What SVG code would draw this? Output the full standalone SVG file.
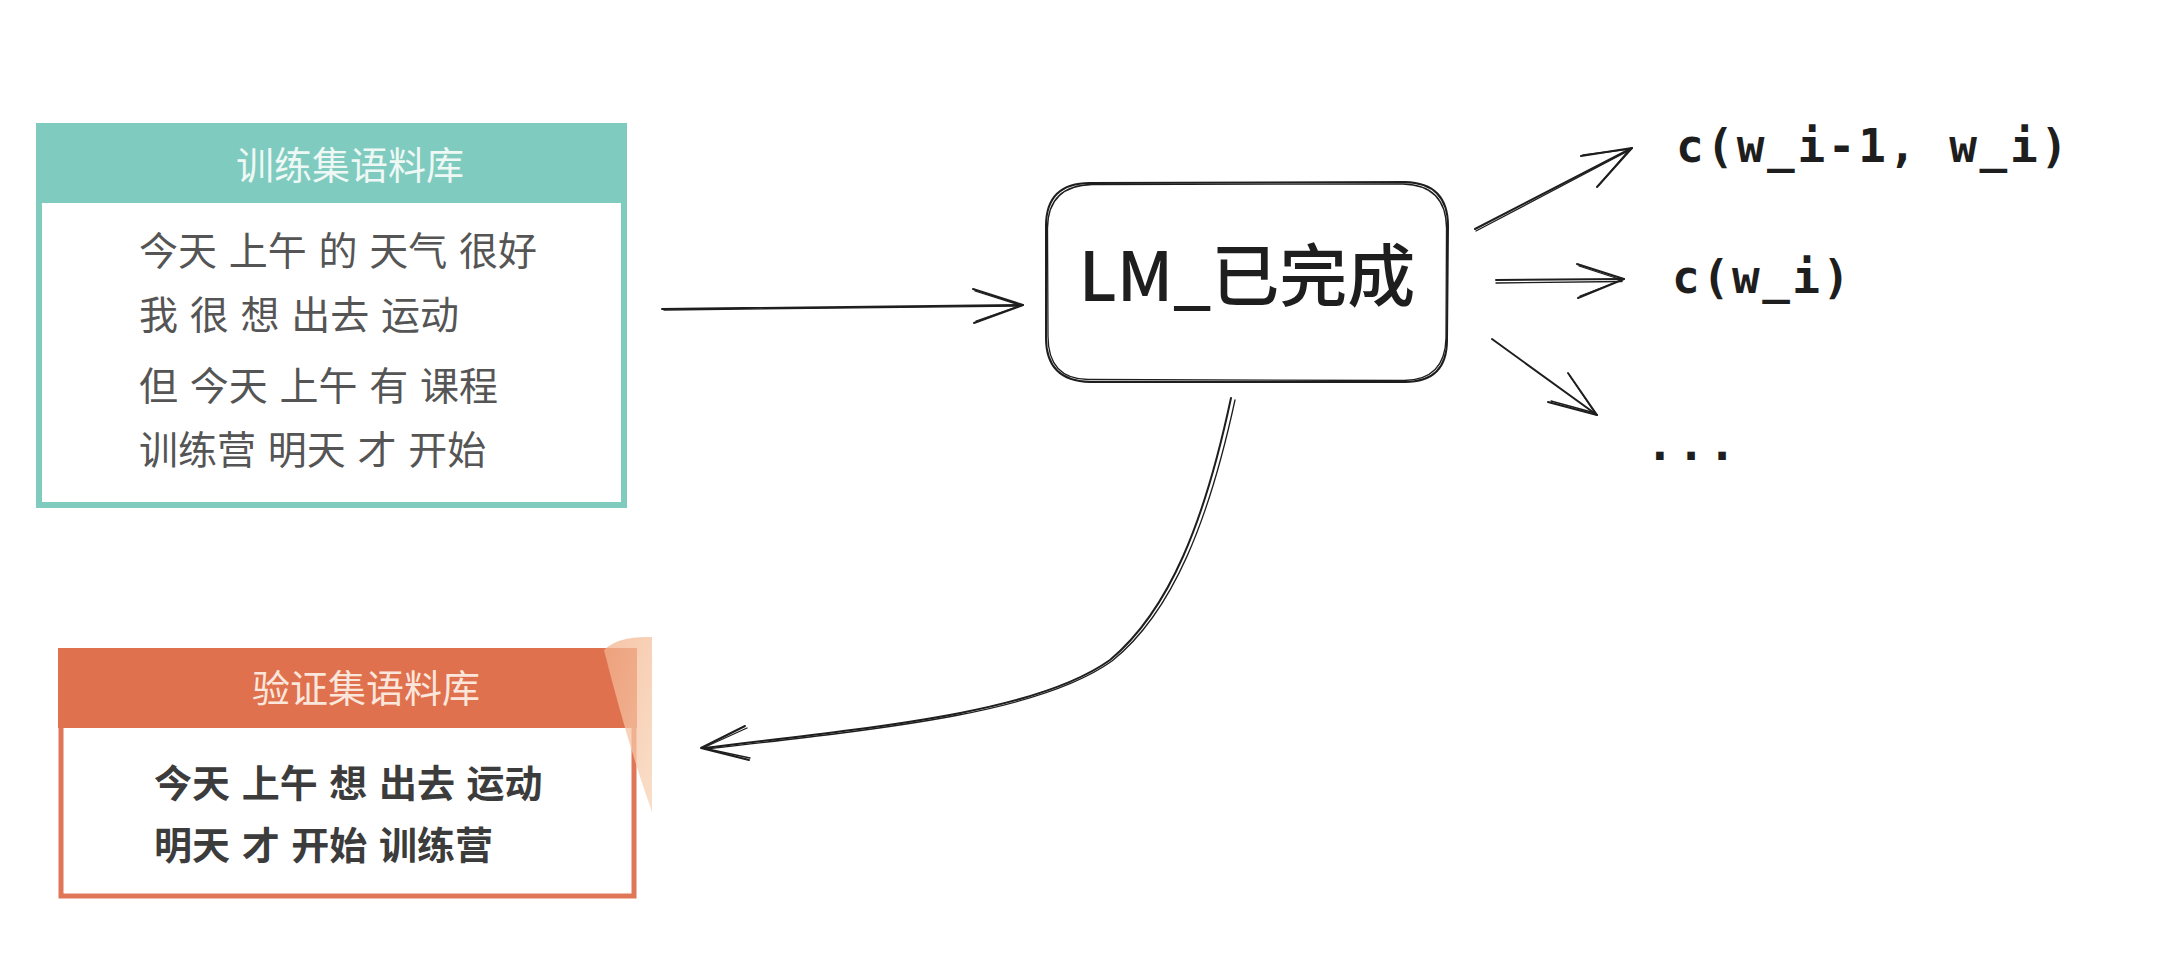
<svg xmlns="http://www.w3.org/2000/svg" width="2162" height="954" viewBox="0 0 2162 954">
<defs>
<style>
.cjk{font-family:"Noto Sans CJK SC","Noto Sans",sans-serif;}
.hdr{font-size:38px;fill:#eef8f5;text-anchor:middle;}
.body{font-size:39px;fill:#555555;word-spacing:3px;}
.vbody{font-size:38px;fill:#3c3c3c;font-weight:bold;word-spacing:3px;}
.mono{font-family:"DejaVu Sans Mono","Liberation Mono",monospace;font-weight:bold;font-size:46px;fill:#1e1e1e;}
.sk{fill:none;stroke:#1e1e1e;stroke-width:2;stroke-linecap:round;stroke-linejoin:round;}
.sk2{fill:none;stroke:#1e1e1e;stroke-width:1.3;stroke-linecap:round;stroke-linejoin:round;}
</style>
<linearGradient id="peach" x1="0" y1="0" x2="1" y2="1">
<stop offset="0" stop-color="#f2b08a"/>
<stop offset="1" stop-color="#f8d4b6"/>
</linearGradient>
</defs>
<rect width="2162" height="954" fill="#ffffff"/>

<g id="train-corpus">
<rect x="39" y="126" width="585" height="379" fill="#ffffff" stroke="#7fcbbd" stroke-width="6"/>
<rect x="36" y="123" width="591" height="80" fill="#80cbbf"/>
<text class="cjk hdr" x="350" y="179">训练集语料库</text>
<text class="cjk body" x="139" y="265">今天 上午 的 天气 很好</text>
<text class="cjk body" x="139" y="329">我 很 想 出去 运动</text>
<text class="cjk body" x="139" y="400">但 今天 上午 有 课程</text>
<text class="cjk body" x="139" y="464">训练营 明天 才 开始</text>
</g>

<g id="valid-corpus">
<rect x="61" y="651" width="573" height="245" fill="#ffffff" stroke="#e07658" stroke-width="5"/>
<rect x="58" y="648" width="579" height="80" fill="#e0714f"/>
<text class="cjk hdr" x="366" y="702" style="fill:#fbe6dc">验证集语料库</text>
<text class="cjk vbody" x="154" y="797">今天 上午 想 出去 运动</text>
<text class="cjk vbody" x="154" y="859">明天 才 开始 训练营</text>
<path d="M604,650 Q618,636 652,637 L652,812 Q628,745 604,650 Z" fill="url(#peach)" opacity="0.75"/>
</g>

<g id="lm-node">
<path class="sk" d="M1090,183 L1405,182 Q1448,183 1448,226 L1447,340 Q1447,382 1405,382 L1090,382 Q1046,381 1046,338 L1046,226 Q1046,183 1090,183 Z" fill="#ffffff"/>
<path class="sk2" d="M1092,184.5 L1403,184 Q1446,185 1446.5,228 L1446,338 Q1445,380 1404,380.5 L1088,379.5 Q1048,379 1048,336 L1047.5,228 Q1048,185.5 1092,184.5 Z"/>
<text class="cjk" x="1247" y="301" font-size="68" font-weight="500" fill="#1e1e1e" text-anchor="middle">LM_已完成</text>
</g>

<g id="label-bigram">
<text class="mono" x="1676" y="162" textLength="392" lengthAdjust="spacing">c(w_i-1, w_i)</text>
</g>
<g id="label-unigram">
<text class="mono" x="1672" y="293" textLength="178" lengthAdjust="spacing">c(w_i)</text>
</g>
<g id="label-more">
<text class="mono" x="1646" y="460" textLength="90" lengthAdjust="spacing">...</text>
</g>

<g id="connectors">
<!-- train -> LM -->
<path class="sk" d="M662,309 L1023,305"/>
<path class="sk2" d="M664,310 Q850,308 1021,306"/>
<path class="sk" d="M973,289 L1023,305 L974,323"/>
<path class="sk2" d="M975,291 L1021,305.5 L976,321"/>
<!-- LM -> bigram -->
<path class="sk" d="M1475,229 L1632,148"/>
<path class="sk2" d="M1476,231 L1630,150"/>
<path class="sk" d="M1581,156 L1632,148 L1597,187"/>
<path class="sk2" d="M1583,155 L1630,149 L1599,185"/>
<!-- LM -> unigram -->
<path class="sk" d="M1496,280 L1624,279"/>
<path class="sk2" d="M1496,283 L1622,281.5"/>
<path class="sk" d="M1577,264 L1624,279 L1578,298"/>
<path class="sk2" d="M1579,266 L1622,280 L1580,296"/>
<!-- LM -> ... -->
<path class="sk" d="M1492,339 L1597,415"/>
<path class="sk" d="M1568,373 L1597,415 L1548,402"/>
<path class="sk2" d="M1570,376 L1595,413 L1551,401"/>
<!-- LM -> validation -->
<path class="sk" d="M1231,398 C1205,520 1170,610 1110,660 C1040,710 900,725 703,748"/>
<path class="sk2" d="M1235,400 C1209,520 1173,612 1112,661 C1042,711 902,727 705,749"/>
<path class="sk" d="M745,726 L701,748 L749,760"/>
<path class="sk2" d="M747,728 L703,748 L750,758"/>
</g>
</svg>
